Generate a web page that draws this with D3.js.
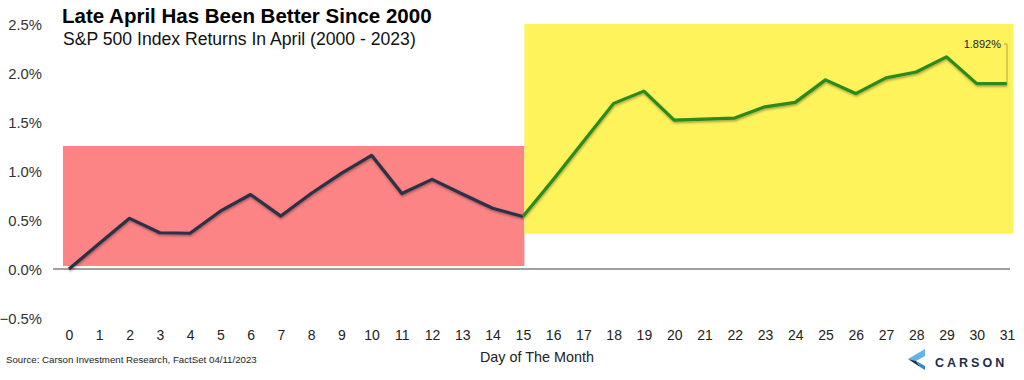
<!DOCTYPE html>
<html><head><meta charset="utf-8">
<script src="https://cdn.jsdelivr.net/npm/d3@7"></script>
<style>
html,body{margin:0;padding:0;background:#fff;}
svg{display:block;font-family:"Liberation Sans",Arial,sans-serif;}
</style></head>
<body><svg id="c" width="1024" height="380"></svg>
<script>
const days = d3.range(0, 32);
const returns = [0, 0.26, 0.517, 0.37, 0.365, 0.59, 0.76, 0.54, 0.77, 0.975, 1.16, 0.77, 0.915, 0.765, 0.62, 0.535,
  0.91, 1.30, 1.69, 1.815, 1.52, 1.53, 1.54, 1.655, 1.70, 1.93, 1.79, 1.95, 2.01, 2.165, 1.892, 1.892];
const yTicks = [-0.5, 0, 0.5, 1.0, 1.5, 2.0, 2.5];
const zoneFrom = [-0.2, 15.05];
const zoneTo = [15.05, 31.2];
const zoneLow = [0.03, 0.36];
const zoneHigh = [1.255, 2.5];
const zoneColors = ["#fc8484", "#fff35c"];
const splitDay = 15;
const lastLabel = "1.892%";
const title = "Late April Has Been Better Since 2000";
const subtitle = "S&P 500 Index Returns In April (2000 - 2023)";
const xTitle = "Day of The Month";
const source = "Source: Carson Investment Research, FactSet 04/11/2023";

const svg = d3.select("#c");
const x = d3.scaleLinear().domain([0, 31]).range([69, 1007]);
const y = d3.scaleLinear().domain([-0.5, 2.5]).range([318, 24]);

const defs = svg.append("defs");
const f = defs.append("filter").attr("id","sh").attr("x","-5%").attr("y","-20%").attr("width","110%").attr("height","140%");
f.append("feDropShadow").attr("dx",0.5).attr("dy",1.5).attr("stdDeviation",1.2).attr("flood-color","#000").attr("flood-opacity",0.35);

// zones
svg.selectAll("rect.zone").data(zoneFrom).enter().append("rect")
  .attr("x",(d,i)=>x(zoneFrom[i])).attr("width",(d,i)=>x(zoneTo[i])-x(zoneFrom[i]))
  .attr("y",(d,i)=>y(zoneHigh[i])).attr("height",(d,i)=>y(zoneLow[i])-y(zoneHigh[i]))
  .attr("fill",(d,i)=>zoneColors[i]);

// zero line
svg.append("line").attr("x1",53).attr("x2",1010).attr("y1",y(0)).attr("y2",y(0))
  .attr("stroke","#404040").attr("stroke-width",1);

// y axis
const yAxis = d3.axisLeft(y).tickValues(yTicks).tickSize(0).tickPadding(0)
  .tickFormat(d=>d3.format(".1f")(d)+"%");
const yg = svg.append("g").attr("transform","translate(42,0)").call(yAxis);
yg.select(".domain").remove();
yg.selectAll("text").attr("font-size",14.8).attr("fill","#333").attr("font-family","Liberation Sans, Arial, sans-serif").attr("dy","0.35em");

// x axis
const xAxis = d3.axisBottom(x).tickValues(days).tickSize(0).tickPadding(0).tickFormat(d3.format("d"));
const xg = svg.append("g").attr("transform","translate(0,330)").call(xAxis);
xg.select(".domain").remove();
xg.selectAll("text").attr("font-size",14).attr("fill","#222").attr("font-family","Liberation Sans, Arial, sans-serif").attr("dy","0.71em");

// lines
const line = d3.line().x(d=>x(d[0])).y(d=>y(d[1]));
const pts = days.map((d,i)=>[d, returns[i]]);
svg.append("path").datum(pts.slice(0, splitDay+1)).attr("d",line)
  .attr("fill","none").attr("stroke","#2b3048").attr("stroke-width",3.2).attr("stroke-linejoin","round").attr("filter","url(#sh)");
svg.append("path").datum(pts.slice(splitDay)).attr("d",line)
  .attr("fill","none").attr("stroke","#2a8a1c").attr("stroke-width",3.2).attr("stroke-linejoin","round").attr("filter","url(#sh)");

// annotation
const lx = x(31), ly = y(returns[31]);
svg.append("path").attr("d",`M${lx},${ly} V44 H${lx-3}`).attr("fill","none").attr("stroke","#b8a33a").attr("stroke-width",1);
svg.append("text").attr("x",lx-6).attr("y",48).attr("text-anchor","end").attr("font-size",11).attr("fill","#222").text(lastLabel);

// titles
svg.append("text").attr("x",62).attr("y",23).attr("font-size",20.5).attr("font-weight","bold").attr("fill","#000").text(title);
svg.append("text").attr("x",63).attr("y",45).attr("font-size",17.6).attr("fill","#111").text(subtitle);
svg.append("text").attr("x",537).attr("y",362).attr("text-anchor","middle").attr("font-size",14.4).attr("fill","#222").text(xTitle);
svg.append("text").attr("x",6).attr("y",363).attr("font-size",9.7).attr("fill","#222").text(source);

// logo
const lg = svg.append("g").attr("transform","translate(907,347)");
lg.append("polygon").attr("points","1,12 18,2 18,9 9,14").attr("fill","#5eb6ea");
lg.append("polygon").attr("points","1,12 9,14 13,20").attr("fill","#1d2d4c");
lg.append("polygon").attr("points","9,14 18,19 18,23 13,20").attr("fill","#2f86c8");
svg.append("text").attr("x",935).attr("y",367).attr("font-size",12.5).attr("letter-spacing","3px").attr("fill","#1d2d4c").attr("font-weight","600").text("CARSON");
</script></body></html>
